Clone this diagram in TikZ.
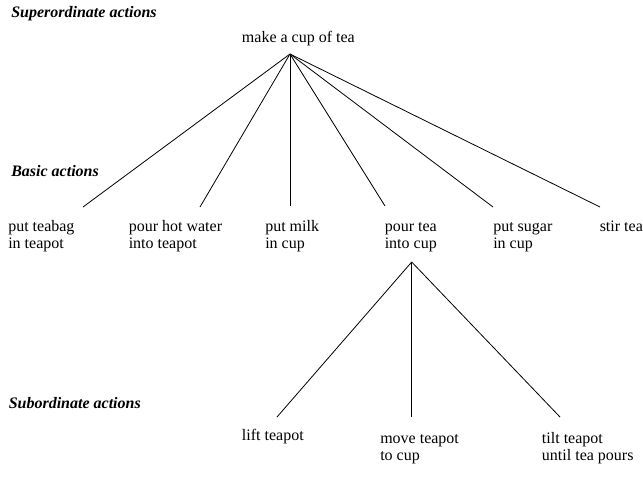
\documentclass[tikz,border=0pt]{standalone}
\usepackage{fontspec}
\setmainfont{Liberation Serif}
\usepackage{tikz}
\usetikzlibrary{positioning}

\begin{document}
\begin{tikzpicture}[x=0.75pt, y=-0.75pt,
                          levelnode/.style={anchor=base west, inner sep=0pt, font=\fontsize{12}{13.2}\selectfont\bfseries\itshape},
                          actnode/.style={anchor=base west, inner sep=0pt, align=left, font=\fontsize{12}{13.2}\selectfont},
                          branch/.style={line width=0.6pt},
                      ]
                      \useasboundingbox (0,0) rectangle (643,486);

                      %Levels
                      \node[levelnode]  (super)     at (11,17)     {Superordinate actions};
                      \node[levelnode]  (basic)     at (11,176)    {Basic actions};
                      \node[levelnode]  (sub)       at (8.5,408)   {Subordinate actions};

                      %Nodes (base = last line)
                      \node[actnode]    (tea)       at (241.7,42)  {make a cup of tea};
                      \node[actnode]    (teabag)    at (8,248.6)     {put teabag\\in teapot};
                      \node[actnode]    (water)     at (128.5,248.6) {pour hot water\\into teapot};
                      \node[actnode]    (milk)      at (265,248.6)   {put milk\\in cup};
                      \node[actnode]    (pour)      at (384.5,248.6) {pour tea\\into cup};
                      \node[actnode]    (sugar)     at (493,248.6)   {put sugar\\in cup};
                      \node[actnode]    (stir)      at (599.5,231)   {stir tea};
                      \node[actnode]    (lift)      at (241.7,440)   {lift teapot};
                      \node[actnode]    (move)      at (380,460.6)   {move teapot\\to cup};
                      \node[actnode]    (tilt)      at (541.7,460.6) {tilt teapot\\until tea pours};

                      %Line ends
                      \coordinate (tea_end)     at (290,54);
                      \coordinate (teabag_end)  at (83,207);
                      \coordinate (water_end)   at (200,207);
                      \coordinate (milk_end)    at (290,206);
                      \coordinate (pour_end)    at (385,206);
                      \coordinate (sugar_end)   at (493,207);
                      \coordinate (stir_end)    at (600,207);
                      \coordinate (pour_top)    at (411.7,262);
                      \coordinate (lift_end)    at (277,417);
                      \coordinate (move_end)    at (411.7,417);
                      \coordinate (tilt_end)    at (560,417);

                      %Lines
                      \draw[branch] (tea_end) -- (teabag_end);
                      \draw[branch] (tea_end) -- (water_end);
                      \draw[branch] (tea_end) -- (milk_end);
                      \draw[branch] (tea_end) -- (pour_end);
                      \draw[branch] (tea_end) -- (sugar_end);
                      \draw[branch] (tea_end) -- (stir_end);
                      \draw[branch] (pour_top) -- (lift_end);
                      \draw[branch] (pour_top) -- (move_end);
                      \draw[branch] (pour_top) -- (tilt_end);
                  \end{tikzpicture}
\end{document}
